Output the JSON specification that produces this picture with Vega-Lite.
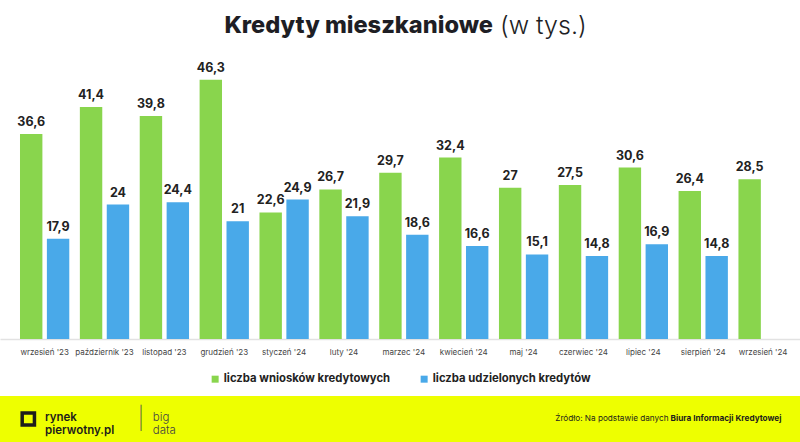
{
  "$schema": "https://vega.github.io/schema/vega-lite/v6.json",
  "background": "white",
  "padding": 0,
  "spacing": 10,
  "config": {
    "view": {"stroke": null},
    "font": "Inter",
    "legend": {"layout": {"bottom": {"anchor": "middle"}}},
    "locale": {"number": {"decimal": ",", "thousands": " ", "grouping": [3], "currency": ["", " zł"]}}
  },
  "resolve": {
    "scale": {"color": "independent", "xOffset": "independent"},
    "legend": {"color": "independent"}
  },
  "vconcat": [
    {
      "width": 800,
      "height": 45,
      "layer": [
        {
          "data": {"values": [{"t": "Kredyty mieszkaniowe"}]},
          "mark": {"type": "text", "align": "right", "baseline": "middle", "dx": -3.5, "dy": 3.5, "fontSize": 23.6, "fontWeight": 800, "fill": "#1e1e24"},
          "encoding": {
            "text": {"field": "t"},
            "x": {"field": "t", "type": "nominal", "scale": {"type": "point", "align": 0.6206}, "axis": null}
          }
        },
        {
          "data": {"values": [{"t": "(w tys.)"}]},
          "mark": {"type": "text", "align": "left", "baseline": "middle", "dx": 3.5, "dy": 3.5, "fontSize": 25, "fontWeight": 300, "fill": "#1e1e24"},
          "encoding": {
            "text": {"field": "t"},
            "x": {"field": "t", "type": "nominal", "scale": {"type": "point", "align": 0.6206}, "axis": null}
          }
        }
      ],
      "resolve": {"scale": {"x": "independent"}}
    },
    {
      "width": 800,
      "height": 284,
      "data": {
        "values": [
          {"month": "wrzesień '23", "series": "liczba wniosków kredytowych", "value": 36.6},
          {"month": "wrzesień '23", "series": "liczba udzielonych kredytów", "value": 17.9},
          {"month": "październik '23", "series": "liczba wniosków kredytowych", "value": 41.4},
          {"month": "październik '23", "series": "liczba udzielonych kredytów", "value": 24},
          {"month": "listopad '23", "series": "liczba wniosków kredytowych", "value": 39.8},
          {"month": "listopad '23", "series": "liczba udzielonych kredytów", "value": 24.4},
          {"month": "grudzień '23", "series": "liczba wniosków kredytowych", "value": 46.3},
          {"month": "grudzień '23", "series": "liczba udzielonych kredytów", "value": 21},
          {"month": "styczeń '24", "series": "liczba wniosków kredytowych", "value": 22.6},
          {"month": "styczeń '24", "series": "liczba udzielonych kredytów", "value": 24.9},
          {"month": "luty '24", "series": "liczba wniosków kredytowych", "value": 26.7},
          {"month": "luty '24", "series": "liczba udzielonych kredytów", "value": 21.9},
          {"month": "marzec '24", "series": "liczba wniosków kredytowych", "value": 29.7},
          {"month": "marzec '24", "series": "liczba udzielonych kredytów", "value": 18.6},
          {"month": "kwiecień '24", "series": "liczba wniosków kredytowych", "value": 32.4},
          {"month": "kwiecień '24", "series": "liczba udzielonych kredytów", "value": 16.6},
          {"month": "maj '24", "series": "liczba wniosków kredytowych", "value": 27},
          {"month": "maj '24", "series": "liczba udzielonych kredytów", "value": 15.1},
          {"month": "czerwiec '24", "series": "liczba wniosków kredytowych", "value": 27.5},
          {"month": "czerwiec '24", "series": "liczba udzielonych kredytów", "value": 14.8},
          {"month": "lipiec '24", "series": "liczba wniosków kredytowych", "value": 30.6},
          {"month": "lipiec '24", "series": "liczba udzielonych kredytów", "value": 16.9},
          {"month": "sierpień '24", "series": "liczba wniosków kredytowych", "value": 26.4},
          {"month": "sierpień '24", "series": "liczba udzielonych kredytów", "value": 14.8},
          {"month": "wrzesień '24", "series": "liczba wniosków kredytowych", "value": 28.5}
        ]
      },
      "encoding": {
        "x": {
          "field": "month",
          "type": "nominal",
          "sort": null,
          "scale": {"paddingInner": 0.1766, "paddingOuter": 0.2693, "align": 0.62},
          "axis": {
            "title": null,
            "ticks": false,
            "labelAngle": 0,
            "labelFontSize": 8,
            "labelColor": "#444444",
            "labelPadding": 9,
            "domainColor": "#e2e2e2",
            "domainWidth": 1.5,
            "grid": false
          }
        },
        "xOffset": {
          "field": "series",
          "type": "nominal",
          "sort": ["liczba wniosków kredytowych", "liczba udzielonych kredytów"],
          "scale": {"paddingInner": 0.167, "paddingOuter": 0}
        },
        "y": {
          "field": "value",
          "type": "quantitative",
          "scale": {"domain": [0, 50.7], "nice": false},
          "axis": null
        }
      },
      "layer": [
        {
          "mark": {"type": "bar"},
          "encoding": {
            "color": {
              "field": "series",
              "type": "nominal",
              "scale": {
                "domain": ["liczba wniosków kredytowych", "liczba udzielonych kredytów"],
                "range": ["#89D54D", "#49A9E9"]
              },
              "legend": {
                "orient": "bottom",
                "direction": "horizontal",
                "title": null,
                "symbolType": "square",
                "symbolSize": 49,
                "symbolStrokeWidth": 0,
                "labelFontSize": 11.3,
                "labelFontWeight": "bold",
                "labelColor": "#222222",
                "labelLimit": 400,
                "labelOffset": 3,
                "columnPadding": 28,
                "offset": 15.5,
                "padding": 1.5
              }
            }
          }
        },
        {
          "mark": {"type": "text", "baseline": "alphabetic", "dy": -8, "fontSize": 12.5, "fontWeight": "bold", "fill": "#222222"},
          "encoding": {
            "text": {"field": "value", "type": "quantitative", "format": ".3~g"}
          }
        }
      ]
    },
    {
      "width": 800,
      "height": 46,
      "view": {"fill": "#EEFF00", "stroke": null},
      "layer": [
        {
          "data": {"values": [{"k": "icon"}]},
          "mark": {"type": "point", "shape": "square", "filled": false, "size": 150, "strokeWidth": 3.5, "stroke": "#1d1d1b", "opacity": 1},
          "encoding": {
            "x": {"field": "k", "type": "nominal", "scale": {"type": "point", "align": 0.0354}, "axis": null}
          }
        },
        {
          "data": {"values": [{"t": "rynek\npierwotny.pl"}]},
          "mark": {"type": "text", "align": "left", "baseline": "middle", "lineBreak": "\n", "lineHeight": 13.5, "dy": -1.5, "fontSize": 11.5, "fontWeight": 600, "fill": "#1d1d1b"},
          "encoding": {
            "text": {"field": "t"},
            "x": {"field": "t", "type": "nominal", "scale": {"type": "point", "align": 0.05625}, "axis": null}
          }
        },
        {
          "data": {"values": [{"t": "|"}]},
          "mark": {"type": "text", "align": "center", "baseline": "middle", "fontSize": 22, "fontWeight": 200, "fill": "#555555"},
          "encoding": {
            "text": {"field": "t"},
            "x": {"field": "t", "type": "nominal", "scale": {"type": "point", "align": 0.17625}, "axis": null}
          }
        },
        {
          "data": {"values": [{"t": "big\ndata"}]},
          "mark": {"type": "text", "align": "left", "baseline": "middle", "lineBreak": "\n", "lineHeight": 13.5, "dy": -1.5, "fontSize": 11.5, "fontWeight": 300, "fill": "#444444"},
          "encoding": {
            "text": {"field": "t"},
            "x": {"field": "t", "type": "nominal", "scale": {"type": "point", "align": 0.191}, "axis": null}
          }
        },
        {
          "data": {"values": [{"t": "Źródło: Na podstawie danych"}]},
          "mark": {"type": "text", "align": "right", "baseline": "middle", "dx": -1, "fontSize": 8.2, "fill": "#1d1d1b"},
          "encoding": {
            "text": {"field": "t"},
            "x": {"field": "t", "type": "nominal", "scale": {"type": "point", "align": 0.8369}, "axis": null}
          }
        },
        {
          "data": {"values": [{"t": "Biura Informacji Kredytowej"}]},
          "mark": {"type": "text", "align": "left", "baseline": "middle", "dx": 1, "fontSize": 8.2, "fontWeight": 700, "fill": "#1d1d1b"},
          "encoding": {
            "text": {"field": "t"},
            "x": {"field": "t", "type": "nominal", "scale": {"type": "point", "align": 0.8369}, "axis": null}
          }
        }
      ],
      "resolve": {"scale": {"x": "independent"}}
    }
  ]
}
